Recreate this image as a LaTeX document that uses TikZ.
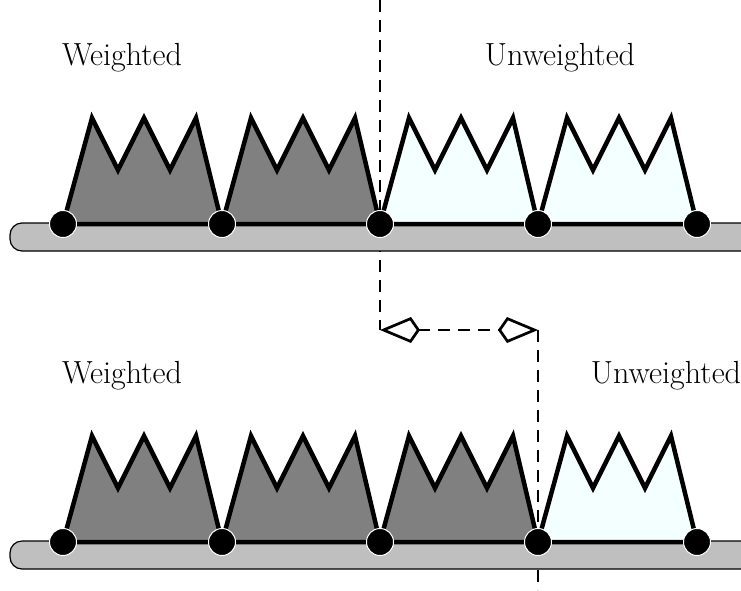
\documentclass[tikz,border=0pt]{standalone}
\usetikzlibrary{arrows.meta,calc}
\definecolor{heavy}{gray}{0.5}
\definecolor{light}{RGB}{244,255,255}
\definecolor{barfill}{gray}{0.75}
\newcommand\crownpath[3]{% from, to, fill
  \filldraw[crown,fill=#3] (#1) -- ($(#1)+(29,-106)$) -- ($(#1)+(55,-54)$) -- ($(#1)+(81,-106)$)
     -- ($(#1)+(107,-54)$) -- ($(#1)+(133,-106)$) -- (#2) -- cycle;}
\begin{document}
\begin{tikzpicture}[x=1pt,y=-1pt,
  pt/.style={circle,fill=black,draw=white,line width=1pt,minimum size=27pt,inner sep=0pt},
  crown/.style={draw=black,line width=4.5pt,line join=miter},
  bar/.style={draw=black,fill=barfill,line width=1.2pt,rounded corners=12pt},
  divider/.style={dash pattern=on 12pt off 8pt,line width=2.7pt},
  lbl/.style={font=\fontsize{32}{38}\selectfont,inner sep=0pt}]
\useasboundingbox (0,0) rectangle (741,590);
% text
\node[lbl] (w1) at (122,58) {Weighted};
\node[lbl] (u1) at (560,58) {Unweighted};
\node[lbl] (w2) at (122,376) {Weighted};
\node[lbl] (u2) at (666,376) {Unweighted};
% divider
\coordinate (d0) at (380,0);
\coordinate (d1) at (380,330);
\coordinate (d2) at (538,330);
\coordinate (d3) at (538,590);
\draw[divider] (d0) -- (d1);
\draw[divider] (d2) -- (d3);
\draw[divider,{Kite[open,fill=white,length=40pt,width=26pt,inset=9pt]}-{Kite[open,fill=white,length=40pt,width=26pt,inset=9pt]}] (d1) -- (d2);
% bars
\draw[bar] (760,223) -- (10,223) -- (10,251) -- (760,251);
\draw[bar] (760,541) -- (10,541) -- (10,569) -- (760,569);
% node positions
\foreach \i/\x in {0/63,1/222,2/380,3/538,4/697}{
  \coordinate (a\i) at (\x,224);
  \coordinate (b\i) at (\x,542);
}
% crowns
\crownpath{a0}{a1}{heavy}
\crownpath{a1}{a2}{heavy}
\crownpath{a2}{a3}{light}
\crownpath{a3}{a4}{light}
\crownpath{b0}{b1}{heavy}
\crownpath{b1}{b2}{heavy}
\crownpath{b2}{b3}{heavy}
\crownpath{b3}{b4}{light}
% nodes
\foreach \i/\x in {0/63,1/222,2/380,3/538,4/697}{
  \node[pt] (na\i) at (a\i) {};
  \node[pt] (nb\i) at (b\i) {};
}
\end{tikzpicture}
\end{document}
